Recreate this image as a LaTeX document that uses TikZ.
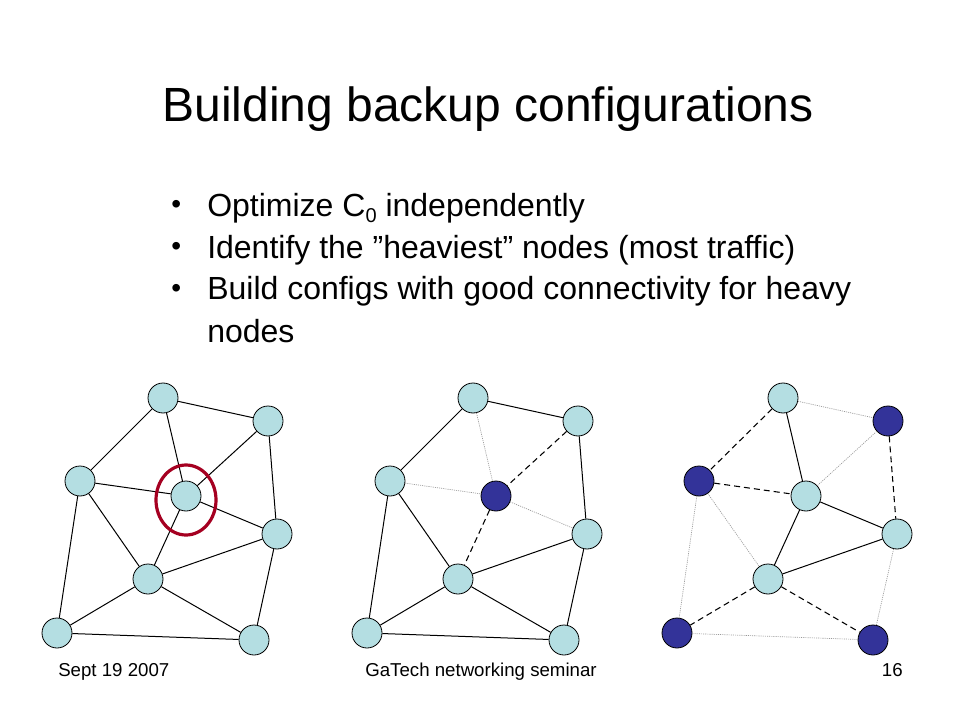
\documentclass[tikz,border=0pt]{standalone}
\usepackage{fontspec}
\setmainfont{Liberation Sans}
\usetikzlibrary{shapes.geometric}
\definecolor{lightnode}{RGB}{180,222,226}
\definecolor{darknode}{RGB}{51,51,153}
\definecolor{ringred}{RGB}{165,0,33}
\tikzset{
  lnode/.style={circle, draw=black, line width=0.6pt, fill=lightnode, minimum size=22.5pt, inner sep=0pt},
  dnode/.style={circle, draw=black, line width=0.6pt, fill=darknode, minimum size=22.5pt, inner sep=0pt},
  solidedge/.style={draw=black, line width=0.75pt},
  dashedge/.style={draw=black, line width=0.8pt, dash pattern=on 4.5pt off 3pt},
  dotedge/.style={draw=gray!80, line width=0.5pt, dash pattern=on 0.8pt off 0.8pt},
  titletext/.style={font=\fontsize{36}{43}\selectfont, inner sep=0pt},
  bullettext/.style={font=\fontsize{24}{29}\selectfont, inner sep=0pt, anchor=base west},
  bulletmark/.style={font=\fontsize{21}{25}\selectfont, inner sep=0pt, anchor=base west},
  foottext/.style={font=\fontsize{14}{16}\selectfont, inner sep=0pt},
}
\newcommand{\lowsub}[1]{\raisebox{-0.3ex}{\fontsize{15}{15}\selectfont #1}}
\begin{document}
\begin{tikzpicture}[x=0.75pt, y=-0.75pt]
\useasboundingbox[fill=white] (0,0) rectangle (960,720);
% title
\node[titletext, anchor=base] (title) at (488,122) {Building backup configurations};
% bullets
\node[bulletmark] (m1) at (171,214) {•};
\node[bullettext] (t1) at (207,217) {Optimize C\lowsub{0} independently};
\node[bulletmark] (m2) at (171,256) {•};
\node[bullettext] (t2) at (207,259) {Identify the ”heaviest” nodes (most traffic)};
\node[bulletmark] (m3) at (171,297) {•};
\node[bullettext] (t3) at (207,300) {Build configs with good connectivity for heavy};
\node[bullettext] (t4) at (207,342) {nodes};
% footer
\node[foottext, anchor=base west] (f1) at (58,676) {Sept 19 2007};
\node[foottext, anchor=base] (f2) at (481,676) {GaTech networking seminar};
\node[foottext, anchor=base east] (f3) at (903,676) {16};

% ---------- graph 1 ----------
\node[lnode] (a1) at (163,398) {};
\node[lnode] (b1n) at (268,421) {};
\node[lnode] (c1) at (80,481) {};
\node[lnode] (d1) at (186,496) {};
\node[lnode] (e1) at (277,534) {};
\node[lnode] (f1n) at (148,579) {};
\node[lnode] (g1) at (57,633) {};
\node[lnode] (h1) at (254,640) {};
\path[solidedge] (a1)--(b1n) (a1)--(c1) (a1)--(d1) (b1n)--(d1) (b1n)--(e1)
  (c1)--(d1) (c1)--(f1n) (c1)--(g1) (d1)--(e1) (d1)--(f1n) (e1)--(f1n)
  (e1)--(h1) (f1n)--(g1) (f1n)--(h1) (g1)--(h1);
\node[ellipse, draw=ringred, line width=2.4pt, minimum width=45pt, minimum height=52.5pt, inner sep=0pt] (ring) at (186,500) {};

% ---------- graph 2 ----------
\node[lnode] (a2) at (473,398) {};
\node[lnode] (b2n) at (578,421) {};
\node[lnode] (c2) at (390,481) {};
\node[dnode] (d2) at (496,496) {};
\node[lnode] (e2) at (587,534) {};
\node[lnode] (f2n) at (458,579) {};
\node[lnode] (g2) at (367,633) {};
\node[lnode] (h2) at (564,640) {};
\path[solidedge] (a2)--(b2n) (a2)--(c2) (b2n)--(e2) (c2)--(f2n) (c2)--(g2)
  (e2)--(f2n) (e2)--(h2) (f2n)--(g2) (f2n)--(h2) (g2)--(h2);
\path[dashedge] (b2n)--(d2) (d2)--(f2n);
\path[dotedge] (a2)--(d2) (c2)--(d2) (d2)--(e2);

% ---------- graph 3 ----------
\node[lnode] (a3) at (783,398) {};
\node[dnode] (b3n) at (888,421) {};
\node[dnode] (c3) at (699,481) {};
\node[lnode] (d3) at (806,496) {};
\node[lnode] (e3) at (897,534) {};
\node[lnode] (f3n) at (768,579) {};
\node[dnode] (g3) at (677,633) {};
\node[dnode] (h3) at (873,640) {};
\path[solidedge] (a3)--(d3) (d3)--(e3) (d3)--(f3n) (e3)--(f3n);
\path[dashedge] (a3)--(c3) (b3n)--(e3) (c3)--(d3) (f3n)--(g3) (f3n)--(h3);
\path[dotedge] (a3)--(b3n) (b3n)--(d3) (c3)--(f3n) (c3)--(g3) (e3)--(h3) (g3)--(h3);
\end{tikzpicture}
\end{document}
